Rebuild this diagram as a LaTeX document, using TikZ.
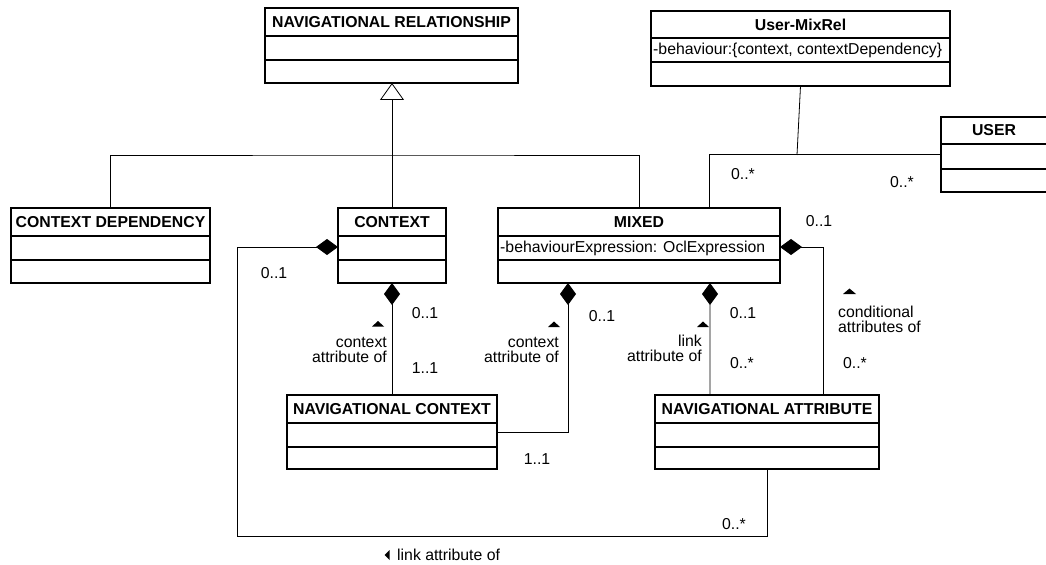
\documentclass[tikz,border=0pt]{standalone}
\usepackage{fontspec}
\setmainfont{Liberation Sans}
\usetikzlibrary{arrows.meta,calc}
\tikzset{
  classbox/.style={draw, line width=1.2bp, inner sep=0, outer sep=0},
  boxline/.style={line width=1.2bp},
  titletext/.style={font=\fontsize{15.8bp}{18bp}\selectfont\bfseries, inner sep=0},
  attrtext/.style={font=\fontsize{15.8bp}{18bp}\selectfont, inner sep=0, anchor=west},
  lbl/.style={font=\fontsize{15.8bp}{15bp}\selectfont, inner sep=0},
  assoc/.style={line width=0.8bp},
  comp/.style={line width=0.8bp, {Diamond[length=22bp, width=16bp, line width=0.8bp]}-},
  gen/.style={line width=0.8bp, -{Triangle[open, length=17bp, width=24bp, line width=0.8bp, fill=white]}},
}
\newcommand{\umlclass}[8]{%
  \node[classbox, minimum width={(#4-#2)*1bp}, minimum height={(#5-#3)*1bp}] (#1) at ({(#2+#4)/2},{(#3+#5)/2}) {};
  \draw[boxline] (#2,#6) -- (#4,#6) (#2,#7) -- (#4,#7);
  \node[titletext] (#1-title) at ({(#2+#4)/2},{(#3+#6)/2}) {#8};
}
\begin{document}
\begin{tikzpicture}[x=1bp, y=-1bp]
\useasboundingbox (0,0) rectangle (1046,565);

% classes
\umlclass{nr}{265}{8}{518}{83}{36}{60}{NAVIGATIONAL RELATIONSHIP}
\umlclass{umr}{651}{11}{950}{86}{38}{62}{User-MixRel}
\node[attrtext] (umr-attr) at (653,50) {-behaviour:\{context, contextDependency\}};
\umlclass{user}{941}{117}{1047}{192}{144}{169}{USER}
\umlclass{cd}{11}{208}{210}{283}{236}{260}{CONTEXT DEPENDENCY}
\umlclass{ctx}{338}{208}{446}{283}{236}{260}{CONTEXT}
\umlclass{mix}{498}{208}{780}{283}{236}{260}{MIXED}
\node[attrtext] (mix-attr) at (500,248) {-behaviourExpression: OclExpression};
\umlclass{nc}{287}{395}{497}{469}{423}{447}{NAVIGATIONAL CONTEXT}
\umlclass{na}{655}{395}{879}{469}{423}{447}{NAVIGATIONAL ATTRIBUTE}

% generalization tree
\coordinate (gbar) at (392,155);
\draw[gen] (ctx.north) -- (ctx.north |- nr.south);
\draw[assoc] (cd.north) |- (gbar) -| (mix.north);

% association MIXED - USER with association class
\coordinate (amid) at (797,155);
\draw[assoc] ([xshift=211bp]mix.north west) |- (user.west);
\draw[assoc] (umr.south) -- (amid);

% compositions
\coordinate (c1) at (237,536);
\draw[comp] ([yshift=-39bp]ctx.north west) -| (c1) -| (na.south);
\draw[comp] (ctx.south) -- (nc.north);
\draw[comp] ([xshift=70bp]mix.south west) |- ([yshift=-37bp]nc.north east);
\draw[comp] ([xshift=212bp]mix.south west) -- ([xshift=55bp]na.north west);
\draw[comp] ([yshift=-39bp]mix.north east) -| ([xshift=-56bp]na.north east);

% multiplicities
\node[lbl] (m1) at (743,174) {0..*};
\node[lbl] (m2) at (902,182) {0..*};
\node[lbl] (m3) at (274,273) {0..1};
\node[lbl] (m4) at (425,313) {0..1};
\node[lbl] (m5) at (425,368) {1..1};
\node[lbl] (m6) at (602,316) {0..1};
\node[lbl] (m7) at (537,459) {1..1};
\node[lbl] (m8) at (743,313) {0..1};
\node[lbl] (m9) at (742,363) {0..*};
\node[lbl] (m10) at (819,221) {0..1};
\node[lbl] (m11) at (855,363) {0..*};
\node[lbl] (m12) at (734,524) {0..*};

% role labels
\node[lbl, align=right, anchor=east] (t1) at (387,349.5) {context\\attribute of};
\node[lbl, align=right, anchor=east] (t2) at (559,349.5) {context\\attribute of};
\node[lbl, align=right, anchor=east] (t3) at (702,348.5) {link\\attribute of};
\node[lbl, align=left, anchor=west] (t4) at (838,319.5) {conditional\\attributes of};
\node[lbl, anchor=west] (t5) at (397,555) {link attribute of};

% direction markers
\fill (372,326.5) -- (384,326.5) -- (378,321) -- cycle;
\fill (548,327) -- (560,327) -- (554,321.5) -- cycle;
\fill (697,327) -- (709,327) -- (703,321.5) -- cycle;
\fill (843,294) -- (856,294) -- (849.5,288.5) -- cycle;
\fill (389.5,550) -- (389.5,560) -- (384.5,555) -- cycle;
\end{tikzpicture}
\end{document}
